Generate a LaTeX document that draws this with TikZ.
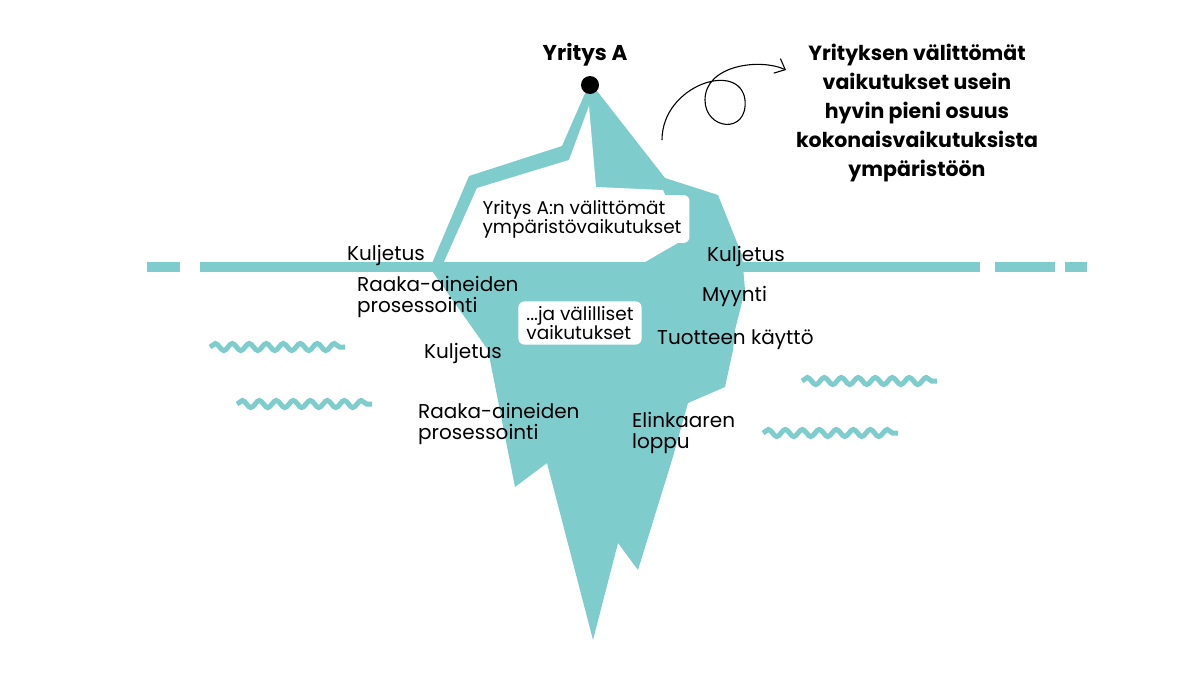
\documentclass[tikz,border=0pt]{standalone}
\usepackage{fontspec}
\setmainfont{Poppins}
\usetikzlibrary{decorations.pathmorphing,arrows.meta}
\definecolor{ice}{HTML}{7FCCCD}
\begin{document}
\begin{tikzpicture}[x=1pt,y=-1pt,
  lbl/.style={font=\fontsize{20}{20.5}\selectfont, align=left, inner sep=0pt},
  box/.style={fill=white, rounded corners=6pt, font=\fontsize{18.5}{19}\selectfont, align=left, inner xsep=8pt, inner ysep=5pt},
  wave/.style={ice, line width=5pt, decorate, decoration={snake, amplitude=3.5pt, segment length=17pt}}]
\useasboundingbox (0,0) rectangle (1200,675);
% iceberg body
\fill[ice] (590,82) -- (665,178) -- (718,195) -- (742,255) -- (745,290) -- (735,330) -- (733,350)
 -- (725,387) -- (688,403) -- (672,460) -- (638,570) -- (618,543) -- (593,640) -- (547,463)
 -- (515,487) -- (488,350) -- (430,268) -- (469,176) -- (562,146) -- cycle;
% above-water white region
\fill[white] (444,262) -- (477,188) -- (569,160) -- (589,106) -- (596,187) -- (663,190) -- (683,240) -- (645,262) -- cycle;
% water line
\fill[ice] (200,262) rectangle (980,272);
\fill[ice] (147,262) rectangle (180,272);
\fill[ice] (995,262) rectangle (1055,272);
\fill[ice] (1065,262) rectangle (1087,272);
% waves
\draw[wave] (210,347) -- (345,347);
\draw[wave] (237,404) -- (372,404);
\draw[wave] (802,381) -- (937,381);
\draw[wave] (763,433) -- (898,433);
% peak
\fill (590,85) circle (9);
\node[font=\bfseries\fontsize{21.5}{22}\selectfont] (top) at (585,55) {Yritys A};
% boxes
\node[box] (direct) at (582,219) {Yritys A:n välittömät\\ympäristövaikutukset};
\node[box] (indirect) at (580,323) {...ja välilliset\\vaikutukset};
% labels
\node[lbl, anchor=west] (k1) at (347,255) {Kuljetus};
\node[lbl, anchor=west] (k2) at (707,256) {Kuljetus};
\node[lbl, anchor=west] (r1) at (357,297) {Raaka-aineiden\\prosessointi};
\node[lbl, anchor=west] (my) at (702,296) {Myynti};
\node[lbl, anchor=west] (k3) at (424,353) {Kuljetus};
\node[lbl, anchor=west] (tk) at (657,340) {Tuotteen käyttö};
\node[lbl, anchor=west] (r2) at (418,424) {Raaka-aineiden\\prosessointi};
\node[lbl, anchor=west] (el) at (632,433) {Elinkaaren\\loppu};
% right text
\node[font=\bfseries\fontsize{20.5}{29}\selectfont, align=center] (note) at (917,113)
 {Yrityksen välittömät\\vaikutukset usein\\hyvin pieni osuus\\kokonaisvaikutuksista\\ympäristöön};
% curly arrow
\coordinate (a0) at (662,140);
\draw[line width=1.1pt, -{Straight Barb[length=9pt,width=16pt]}] (a0) .. controls (662,85) and (740,60) .. (745,100)
 .. controls (748,135) and (705,130) .. (705,100) .. controls (705,65) and (760,58) .. (786,70);
\end{tikzpicture}
\end{document}
